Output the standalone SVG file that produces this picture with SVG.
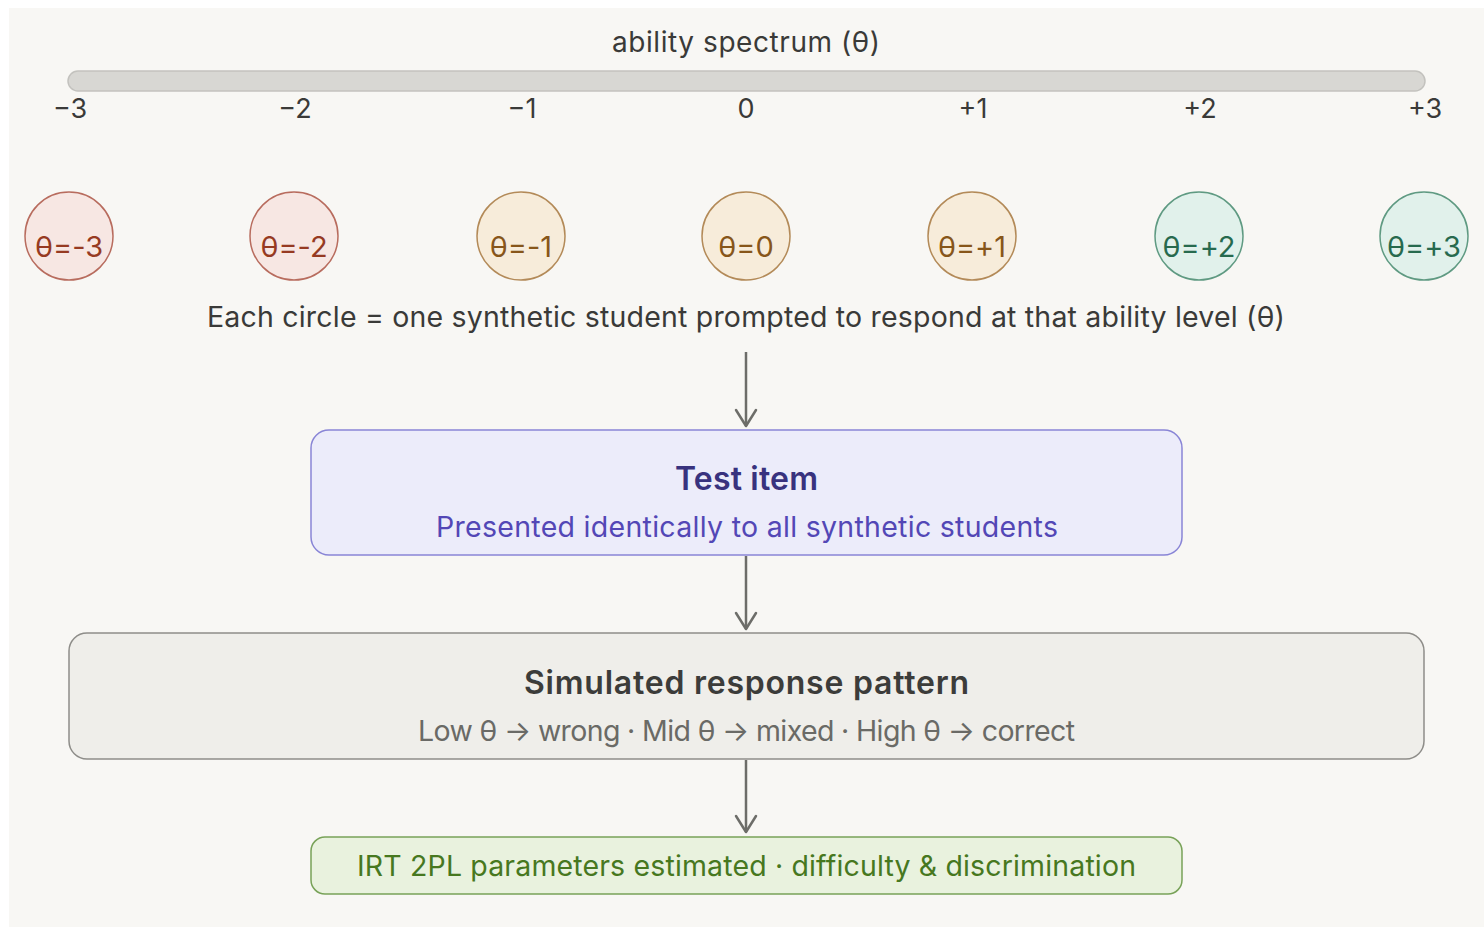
<svg xmlns="http://www.w3.org/2000/svg" width="1484" height="927" viewBox="0 0 1484 927">
  <style>
    .sans { font-family: Inter, "Liberation Sans", Arial, sans-serif; }
    .tick { font-size: 27px; fill: #3a3a38; text-anchor: middle; }
    .lvl { font-family: Inter, "Liberation Sans", Arial, sans-serif; font-size: 29px; text-anchor: middle; }
    .low circle { fill: #f7e7e3; stroke: #b86c5e; stroke-width: 1.5; }
    .low text { fill: #963a22; }
    .mid circle { fill: #f7ecda; stroke: #b38a58; stroke-width: 1.5; }
    .mid text { fill: #87561a; }
    .high circle { fill: #e1f1eb; stroke: #5f9a82; stroke-width: 1.5; }
    .high text { fill: #276a4e; }
    .edge { stroke: #6d6d69; stroke-width: 2.5; fill: none; }
    .title { font-size: 32px; font-weight: 600; text-anchor: middle; }
    .sub { font-size: 28.5px; text-anchor: middle; }
  </style>
  <defs>
    <marker id="chev" viewBox="0 0 20 24" refX="18" refY="12" markerWidth="20" markerHeight="24" markerUnits="userSpaceOnUse" orient="auto">
      <path d="M2 2 L18 12 L2 22" fill="none" stroke="#6d6d69" stroke-width="2.5" stroke-linecap="round" stroke-linejoin="round"/>
    </marker>
  </defs>

  <!-- canvas -->
  <rect x="0" y="0" width="1484" height="927" fill="#ffffff"/>
  <rect x="9" y="8" width="1475" height="919" fill="#f8f7f4"/>

  <!-- ability axis -->
  <g id="axis" class="sans">
    <text x="746" y="52" font-size="28" fill="#3a3a38" text-anchor="middle" textLength="268" lengthAdjust="spacing">ability spectrum (θ)</text>
    <rect x="68" y="71" width="1357" height="20" rx="10" fill="#d8d7d3" stroke="#c3c2be" stroke-width="1.5"/>
    <text class="tick" x="70" y="118">−3</text>
    <text class="tick" x="295" y="118">−2</text>
    <text class="tick" x="522" y="118">−1</text>
    <text class="tick" x="746" y="118">0</text>
    <text class="tick" x="973" y="118">+1</text>
    <text class="tick" x="1200" y="118">+2</text>
    <text class="tick" x="1425" y="118">+3</text>
  </g>

  <!-- synthetic students -->
  <g id="student-m3" class="low"><circle cx="69" cy="236" r="44"/><text class="lvl" x="69" y="257">θ=-3</text></g>
  <g id="student-m2" class="low"><circle cx="294" cy="236" r="44"/><text class="lvl" x="294" y="257">θ=-2</text></g>
  <g id="student-m1" class="mid"><circle cx="521" cy="236" r="44"/><text class="lvl" x="521" y="257">θ=-1</text></g>
  <g id="student-0" class="mid"><circle cx="746" cy="236" r="44"/><text class="lvl" x="746" y="257">θ=0</text></g>
  <g id="student-p1" class="mid"><circle cx="972" cy="236" r="44"/><text class="lvl" x="972" y="257">θ=+1</text></g>
  <g id="student-p2" class="high"><circle cx="1199" cy="236" r="44"/><text class="lvl" x="1199" y="257">θ=+2</text></g>
  <g id="student-p3" class="high"><circle cx="1424" cy="236" r="44"/><text class="lvl" x="1424" y="257">θ=+3</text></g>

  <g id="caption" class="sans">
    <text x="746" y="327" font-size="28.5" fill="#3a3a38" text-anchor="middle" textLength="1078" lengthAdjust="spacing">Each circle = one synthetic student prompted to respond at that ability level (θ)</text>
  </g>

  <!-- connectors -->
  <g id="connectors">
    <line class="edge" x1="746" y1="352" x2="746" y2="426" marker-end="url(#chev)"/>
    <line class="edge" x1="746" y1="556" x2="746" y2="629" marker-end="url(#chev)"/>
    <line class="edge" x1="746" y1="760" x2="746" y2="832" marker-end="url(#chev)"/>
  </g>

  <!-- test item -->
  <g id="test-item" class="sans">
    <rect x="311" y="430" width="871" height="125" rx="18" fill="#ececfa" stroke="#8985d6" stroke-width="1.5"/>
    <text class="title" x="746.5" y="490" fill="#38327e" textLength="143" lengthAdjust="spacing">Test item</text>
    <text class="sub" x="747" y="537" fill="#5347b6" textLength="622" lengthAdjust="spacing">Presented identically to all synthetic students</text>
  </g>

  <!-- response pattern -->
  <g id="response-pattern" class="sans">
    <rect x="69" y="633" width="1355" height="126" rx="18" fill="#efeeea" stroke="#8e8d89" stroke-width="1.5"/>
    <text class="title" x="746.5" y="694" fill="#3c3c3a" textLength="445" lengthAdjust="spacing">Simulated response pattern</text>
    <text class="sub" x="746.5" y="741" fill="#6a6a66" textLength="657" lengthAdjust="spacing">Low θ → wrong · Mid θ → mixed · High θ → correct</text>
  </g>

  <!-- irt estimation -->
  <g id="irt-estimate" class="sans">
    <rect x="311" y="837" width="871" height="57" rx="14" fill="#e9f2de" stroke="#78a258" stroke-width="1.5"/>
    <text class="sub" x="746.5" y="876" fill="#47781f" textLength="779" lengthAdjust="spacing">IRT 2PL parameters estimated · difficulty &amp; discrimination</text>
  </g>
</svg>
